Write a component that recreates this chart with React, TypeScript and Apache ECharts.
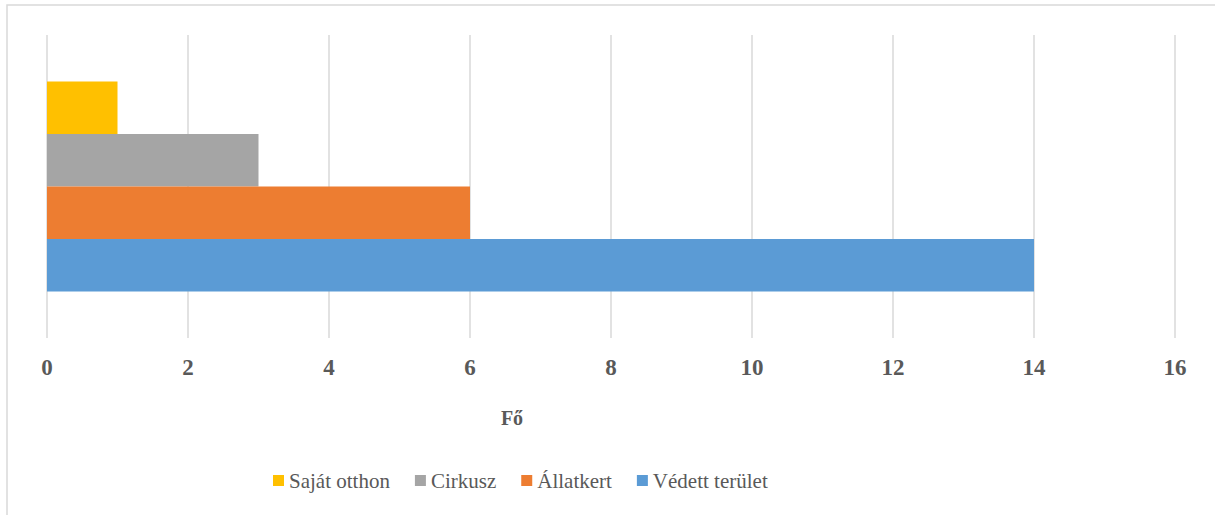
import React, { useEffect, useRef } from "react";
import * as echarts from "echarts";

const categories = [""];
const seriesNames = ["Saját otthon", "Cirkusz", "Állatkert", "Védett terület"];
const seriesValues = [[1], [3], [6], [14]];
const seriesColors = ["#FFC000", "#A5A5A5", "#ED7D31", "#5B9BD5"];
const xTicks = { min: 0, max: 16, interval: 2 };
const axisTitle = "Fő";

const FONT = "'Liberation Serif', 'Times New Roman', serif";
const TEXT = "#595959";

export default function App() {
  const ref = useRef<HTMLDivElement>(null);
  useEffect(() => {
    if (!ref.current) return;
    const chart = echarts.init(ref.current, null, { renderer: "svg" });
    chart.setOption({
      animation: false,
      backgroundColor: "#ffffff",
      grid: { left: 47, right: 40, top: 35, bottom: 177, containLabel: false, outerBoundsMode: "none" },
      xAxis: {
        type: "value",
        min: xTicks.min,
        max: xTicks.max,
        interval: xTicks.interval,
        axisLine: { show: false },
        axisTick: { show: false },
        axisLabel: { fontFamily: FONT, fontWeight: "bold", fontSize: 23, color: TEXT, margin: 18 },
        splitLine: { show: true, lineStyle: { color: "#d9d9d9", width: 1.5 } },
      },
      yAxis: {
        type: "category",
        data: categories,
        axisLine: { show: false },
        axisTick: { show: false },
        axisLabel: { show: false },
        splitLine: { show: false },
      },
      legend: {
        data: seriesNames,
        left: 268,
        top: 465,
        icon: "rect",
        itemWidth: 11,
        itemHeight: 11,
        itemGap: 25,
        textStyle: { fontFamily: FONT, fontSize: 21, color: TEXT },
      },
      graphic: [
        {
          type: "rect",
          shape: { x: 7, y: 5, width: 1220, height: 520 },
          style: { fill: "none", stroke: "#d9d9d9", lineWidth: 1.5 },
          silent: true,
        },
        {
          type: "text",
          x: 512,
          y: 418,
          style: {
            text: axisTitle,
            fontFamily: FONT,
            fontWeight: "bold",
            fontSize: 20,
            fill: TEXT,
            align: "center",
            verticalAlign: "middle",
          },
        },
      ],
      series: seriesNames.map((name, i) => ({
        name,
        type: "bar",
        data: seriesValues[i],
        itemStyle: { color: seriesColors[i] },
        barGap: "0%",
        barCategoryGap: "30.7%",
      })),
    });
    return () => chart.dispose();
  }, []);
  return (
    <div
      ref={ref}
      style={{ position: "absolute", left: 0, top: 0, width: 1215, height: 515 }}
    />
  );
}
